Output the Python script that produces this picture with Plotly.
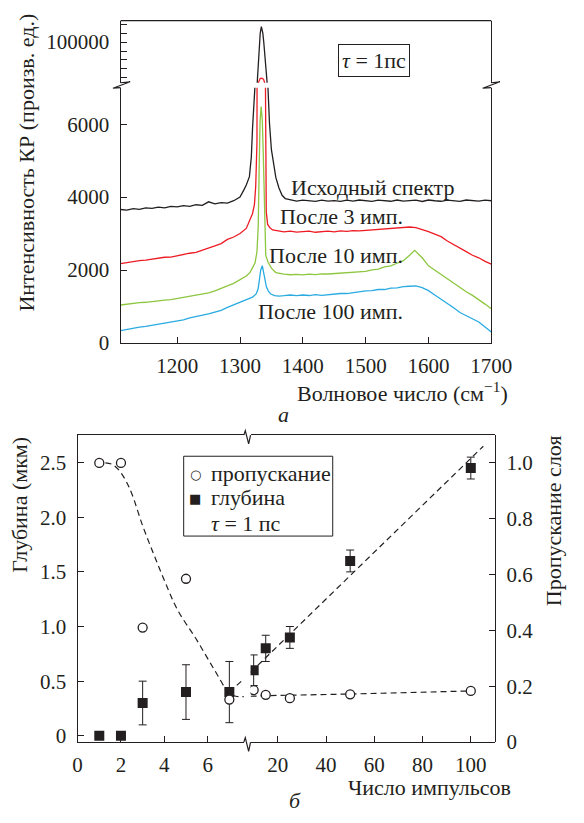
import plotly.graph_objects as go

W, H = 584, 823
FONT = "Liberation Serif, Times New Roman, serif"
INK = "#231f20"


def PX(p):
    return p / W


def PY(p):
    return 1 - p / H


# ---------------- (a) Raman spectra ----------------
wn_black = [1110, 1120, 1130, 1140, 1150, 1160, 1170, 1180, 1190, 1200, 1210, 1220, 1230, 1240, 1250,
            1260, 1270, 1280, 1290, 1300, 1306, 1310, 1315, 1318, 1320, 1322, 1324, 1327.5, 1328.7,
            1330.7, 1332.2, 1334, 1336.3, 1337.8, 1340.9, 1343, 1344.5, 1347, 1350, 1354, 1357, 1362,
            1367, 1372, 1380, 1390, 1400, 1410, 1420, 1430, 1440, 1450, 1460, 1470, 1480, 1490, 1500,
            1510, 1520, 1530, 1540, 1550, 1560, 1570, 1580, 1590, 1600, 1610, 1620, 1630, 1640, 1650,
            1660, 1670, 1680, 1690, 1700]
int_black = [3660, 3645, 3685, 3665, 3705, 3690, 3725, 3705, 3745, 3730, 3765, 3745, 3790, 3775, 3870,
             3815, 3850, 3835, 3900, 4000, 4190, 4330, 4560, 5100, 5900, 6500, 7100, 78000, 86800,
             100000, 105000, 108600, 105000, 100000, 86800, 78000, 7000, 6000, 5300, 4800, 4540, 4250,
             4050, 3960, 3925, 3890, 3915, 3895, 3880, 3915, 3890, 3905, 3880, 3915, 3890, 3920, 3895,
             3880, 3915, 3900, 3885, 3920, 3890, 3905, 3915, 3880, 3920, 3900, 3885, 3915, 3900, 3880,
             3920, 3900, 3890, 3915, 3900]

wn_red = [1110, 1120, 1130, 1140, 1150, 1160, 1170, 1180, 1190, 1200, 1210, 1220, 1230, 1240, 1250,
          1260, 1270, 1280, 1290, 1300, 1310, 1316, 1320, 1323, 1325, 1327, 1328.5, 1329.2, 1330.5,
          1332, 1334, 1336, 1337.8, 1339.2, 1339.8, 1340.6, 1341.8, 1344, 1348, 1352, 1360, 1370,
          1380, 1390, 1400, 1410, 1420, 1430, 1440, 1450, 1460, 1470, 1480, 1490, 1500, 1510, 1520,
          1530, 1540, 1550, 1560, 1570, 1580, 1590, 1600, 1610, 1620, 1630, 1640, 1650, 1660, 1670,
          1680, 1690, 1700]
int_red = [2175, 2205, 2225, 2260, 2270, 2300, 2315, 2350, 2355, 2395, 2415, 2460, 2485, 2540, 2585,
           2660, 2725, 2840, 2905, 3000, 3140, 3370, 3550, 3800, 4300, 5500, 9000, 77300, 79000,
           79700, 79900, 79700, 79000, 77300, 9000, 5000, 3600, 3250, 3150, 3100, 3075, 3045,
           3065, 3040, 3055, 3065, 3035, 3055, 3065, 3045, 3075, 3060, 3080, 3075, 3090, 3095, 3120,
           3115, 3145, 3145, 3175, 3180, 3165, 3115, 3055, 2985, 2915, 2795, 2705, 2595, 2505, 2405,
           2335, 2235, 2160]

wn_green = [1110, 1120, 1130, 1140, 1150, 1160, 1170, 1180, 1190, 1200, 1210, 1220, 1230, 1240, 1250,
            1260, 1270, 1280, 1290, 1300, 1310, 1316, 1320, 1324, 1327, 1329, 1330.5, 1332, 1333.7,
            1335.5, 1337, 1338.5, 1339.5, 1341, 1345, 1350, 1357, 1365, 1370, 1380, 1390, 1400, 1410,
            1420, 1430, 1440, 1450, 1460, 1470, 1480, 1490, 1500, 1510, 1520, 1530, 1540, 1550, 1560,
            1570, 1578, 1585, 1590, 1600, 1610, 1620, 1630, 1640, 1650, 1660, 1670, 1680, 1690, 1700]
int_green = [1040, 1065, 1075, 1105, 1115, 1140, 1145, 1175, 1185, 1215, 1235, 1265, 1295, 1335, 1375,
             1425, 1485, 1565, 1635, 1725, 1835, 1935, 2050, 2200, 2500, 3200, 4800, 6100, 6480,
             6100, 5200, 4200, 3000, 2400, 2200, 2050, 1930, 1895, 1885, 1870, 1880, 1865, 1885,
             1875, 1895, 1890, 1905, 1900, 1925, 1935, 1955, 1965, 2005, 2025, 2085, 2115, 2185, 2255,
             2405, 2540, 2420, 2335, 2115, 1995, 1875, 1765, 1635, 1525, 1405, 1305, 1195, 1065, 935]

wn_blue = [1110, 1120, 1130, 1140, 1150, 1160, 1170, 1180, 1190, 1200, 1210, 1220, 1230, 1240, 1250,
           1260, 1270, 1280, 1290, 1300, 1310, 1320, 1326, 1329, 1331, 1333, 1335.5, 1338, 1340, 1342,
           1345, 1349, 1355, 1362, 1370, 1380, 1390, 1400, 1410, 1420, 1430, 1440, 1450, 1460, 1470,
           1480, 1490, 1500, 1510, 1520, 1530, 1540, 1550, 1560, 1570, 1580, 1590, 1600, 1610, 1620,
           1630, 1640, 1650, 1660, 1670, 1680, 1690, 1700]
int_blue = [340, 375, 395, 435, 455, 485, 505, 545, 565, 605, 635, 685, 715, 765, 795,
            845, 895, 975, 1045, 1135, 1185, 1255, 1350, 1500, 1750, 2000, 2120, 1900, 1650, 1540,
            1430, 1340, 1295, 1285, 1295, 1315, 1295, 1315, 1300, 1325, 1305, 1325, 1330, 1355, 1355,
            1385, 1395, 1425, 1435, 1465, 1465, 1505, 1510, 1545, 1555, 1565, 1515, 1435, 1315, 1205,
            1075, 965, 835, 745, 645, 575, 435, 300]

spec_colors = ["#231f20", "#ed1c24", "#8dc63f", "#29abe2"]
spec_labels = ["Исходный спектр", "После 3 имп.", "После 10 имп.", "После 100 имп."]
wn_ticks = [1200, 1300, 1400, 1500, 1600, 1700]
low_ticks = [0, 2000, 4000, 6000]
high_ticks = [100000]
high_ticktext = ["100000"]
high_minor_ticks = [80000, 85000, 90000, 95000, 105000, 110000]

# ---------------- (б) depth / transmission ----------------
pulses = [1, 2, 3, 5, 7, 10, 15, 25, 50, 100]
depth = [0.0, 0.0, 0.30, 0.40, 0.40, 0.60, 0.80, 0.90, 1.60, 2.45]
depth_err = [0.0, 0.0, 0.20, 0.25, 0.28, 0.14, 0.12, 0.10, 0.10, 0.10]
transmission = [1.0, 1.0, 0.41, 0.585, 0.152, 0.186, 0.169, 0.157, 0.171, 0.183]

trans_fit_left_n = [1.28, 1.6, 1.9, 2.2, 2.5, 3.0, 3.5, 4.0, 4.6, 5.5, 6.3, 7.0, 7.3, 7.67]
trans_fit_left_t = [1.0, 0.995, 0.975, 0.94, 0.89, 0.775, 0.675, 0.58, 0.475, 0.365, 0.26, 0.175, 0.164, 0.163]
trans_fit_right_n = [8.71, 20, 50, 100]
trans_fit_right_t = [0.164, 0.167, 0.172, 0.183]
depth_fit_left_n = [7.0, 7.67]
depth_fit_left_d = [0.40, 0.52]
depth_fit_right_n = [8.71, 105.2]
depth_fit_right_d = [0.58, 2.65]

n_ticks_left = [0, 2, 4, 6]
n_ticks_right = [20, 40, 60, 80, 100]
depth_ticks = [0, 0.5, 1.0, 1.5, 2.0, 2.5]
depth_ticktext = ["0", "0.5", "1.0", "1.5", "2.0", "2.5"]
trans_ticks = [0, 0.2, 0.4, 0.6, 0.8, 1.0]
trans_ticktext = ["0", "0.2", "0.4", "0.6", "0.8", "1.0"]

legend_labels = ["пропускание", "глубина", "<i>τ</i> = 1 пс"]
legend_glyphs = ["○", "■", ""]

fig = go.Figure()

# spectra
all_spec = [(wn_black, int_black), (wn_red, int_red), (wn_green, int_green), (wn_blue, int_blue)]
for (wx, wy), col in zip(all_spec, spec_colors):
    fig.add_trace(go.Scatter(x=wx, y=wy, mode="lines", line=dict(color=col, width=1.3),
                             xaxis="x", yaxis="y", showlegend=False, hoverinfo="skip"))
for (wx, wy), col in zip(all_spec[:2], spec_colors[:2]):
    fig.add_trace(go.Scatter(x=wx, y=wy, mode="lines", line=dict(color=col, width=1.3),
                             xaxis="x", yaxis="y2", showlegend=False, hoverinfo="skip"))

# fits (dashed)
dash = dict(color=INK, width=1.2, dash="6px,4px")
fig.add_trace(go.Scatter(x=trans_fit_left_n, y=trans_fit_left_t, mode="lines", line=dash,
                         line_shape="spline", xaxis="x2", yaxis="y4", showlegend=False))
fig.add_trace(go.Scatter(x=trans_fit_right_n, y=trans_fit_right_t, mode="lines", line=dash,
                         xaxis="x3", yaxis="y4", showlegend=False))
fig.add_trace(go.Scatter(x=depth_fit_left_n, y=depth_fit_left_d, mode="lines", line=dash,
                         xaxis="x2", yaxis="y3", showlegend=False))
fig.add_trace(go.Scatter(x=depth_fit_right_n, y=depth_fit_right_d, mode="lines", line=dash,
                         xaxis="x3", yaxis="y3", showlegend=False))

left_idx = [i for i, n in enumerate(pulses) if n < 8]
right_idx = [i for i, n in enumerate(pulses) if n >= 8]

circ = dict(symbol="circle", size=9, color="white", line=dict(color=INK, width=1.3))
sq = dict(symbol="square", size=10, color=INK, line=dict(width=0))

for idx, xa in [(left_idx, "x2"), (right_idx, "x3")]:
    fig.add_trace(go.Scatter(x=[pulses[i] for i in idx], y=[transmission[i] for i in idx],
                             mode="markers", marker=circ, xaxis=xa, yaxis="y4",
                             name="пропускание", showlegend=False))
for idx, xa in [(left_idx, "x2"), (right_idx, "x3")]:
    fig.add_trace(go.Scatter(x=[pulses[i] for i in idx], y=[depth[i] for i in idx],
                             mode="markers", marker=sq, xaxis=xa, yaxis="y3",
                             error_y=dict(type="data", array=[depth_err[i] for i in idx],
                                          color=INK, thickness=1, width=4),
                             name="глубина", showlegend=False))

tickfont = dict(family=FONT, size=21, color=INK)
common = dict(showline=True, linecolor=INK, linewidth=1.3, ticks="inside", ticklen=6,
              tickcolor=INK, tickwidth=1.2, showgrid=False, zeroline=False, tickfont=tickfont)

fig.update_layout(
    width=W, height=H, margin=dict(l=0, r=0, t=0, b=0),
    paper_bgcolor="white", plot_bgcolor="rgba(0,0,0,0)",
    font=dict(family=FONT, size=21, color=INK),
    showlegend=False,
    xaxis=dict(domain=[PX(121), PX(509)], range=[1110, 1700], anchor="y",
               tickvals=wn_ticks, ticklabelstandoff=4, **common),
    yaxis=dict(domain=[PY(348), PY(89)], range=[0, 7000], anchor="x", mirror=True,
               tickvals=low_ticks, ticklabelstandoff=6, **common),
    yaxis2=dict(domain=[PY(84), PY(21)], range=[77300, 111900], anchor="x", mirror=True,
                tickvals=high_ticks, ticktext=high_ticktext, ticklabelstandoff=6,
                minor=dict(tickvals=high_minor_ticks, ticks="inside", ticklen=6, tickcolor=INK,
                           tickwidth=1.2, showgrid=False),
                **common),
    xaxis2=dict(domain=[PX(76), PX(250)], range=[0, 7.67], anchor="y3", mirror=True,
                tickvals=n_ticks_left, ticklabelstandoff=4, **common),
    xaxis3=dict(domain=[PX(257), PX(513)], range=[8.71, 110.1], anchor="y3", mirror=True,
                tickvals=n_ticks_right, ticklabelstandoff=4, **common),
    yaxis3=dict(domain=[PY(753), PY(441.5)], range=[-0.057, 2.752], anchor="x2",
                tickvals=depth_ticks, ticktext=depth_ticktext, ticklabelstandoff=6, **common),
    yaxis4=dict(domain=[PY(753), PY(441.5)], range=[0, 1.1], anchor="x3", side="right",
                tickvals=trans_ticks, ticktext=trans_ticktext, ticklabelstandoff=6, **common),
)


def path(pts):
    s = "M {} {}".format(PX(pts[0][0]), PY(pts[0][1]))
    for x, y in pts[1:]:
        s += " L {} {}".format(PX(x), PY(y))
    return s


shapes = []
# top frame line of upper section
shapes.append(dict(type="line", xref="paper", yref="paper", x0=PX(121), x1=PX(509), y0=PY(21), y1=PY(21),
                   line=dict(color=INK, width=1.3)))
# legend box
shapes.append(dict(type="rect", xref="paper", yref="paper", x0=PX(187), x1=PX(343), y0=PY(544), y1=PY(463),
                   line=dict(color=INK, width=1), fillcolor="white", layer="above"))
# axis breaks
for pts in [
    [(121, 84), (131, 83), (113, 89.5), (121, 89)],
    [(509, 84), (518, 83), (500, 89.5), (509, 89)],
    [(250, 441.5), (251.5, 437), (255, 450.5), (257, 441.5)],
    [(250, 753), (251.5, 748.5), (255, 762.5), (257, 753)],
]:
    shapes.append(dict(type="path", xref="paper", yref="paper", path=path(pts),
                       line=dict(color=INK, width=1.2)))
fig.update_layout(shapes=shapes)

ann = []


def text(t, x, y, angle=0, size=22, family=FONT, xanchor="center", **kw):
    ann.append(dict(text=t, x=PX(x), y=PY(y), xref="paper", yref="paper", showarrow=False,
                    xanchor=xanchor, yanchor="middle", textangle=angle,
                    font=dict(family=family, size=size, color=INK), **kw))


text("Интенсивность КР (произв. ед.)", 22.5, 164.5, -90)
text("Волновое число (см<sup>−1</sup>)", 416.5, 398)
text("<i>а</i>", 291, 421)
text("<i>τ</i> = 1пс", 386.5, 61, bordercolor=INK, borderwidth=1, borderpad=3, bgcolor="white")
for lab, (lx, ly) in zip(spec_labels, [(385.5, 190), (352, 220), (346, 259), (341, 316.5)]):
    text(lab, lx, ly)
text("Глубина (мкм)", 15, 512, -90)
text("Пропускание слоя", 574, 528.5, -90)
text("Число импульсов", 444, 799)
text("<i>б</i>", 303, 812)

# legend (manual)
for lab, glyph, ly in zip(legend_labels, legend_glyphs, [481, 505, 531]):
    text(lab, 213, ly, xanchor="left")
    if glyph:
        text(glyph, 199, ly + 1, size=13, family="DejaVu Sans")
fig.update_layout(annotations=ann)

fig.write_html("out.html", config={"displayModeBar": False},
               post_script="document.body.style.margin='0px';")
